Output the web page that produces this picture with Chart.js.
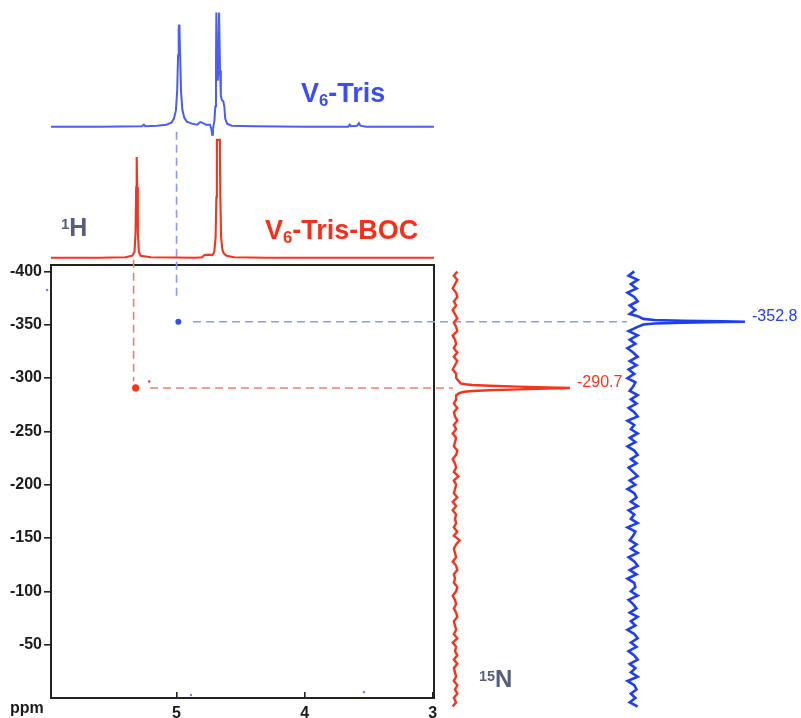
<!DOCTYPE html>
<html>
<head>
<meta charset="utf-8">
<title>V6-Tris / V6-Tris-BOC 1H-15N</title>
<script src="https://cdn.jsdelivr.net/npm/chart.js@4.4.1/dist/chart.umd.min.js"></script>
<style>
  body { margin: 0; background: #fff; }
  #wrap { position: relative; width: 801px; height: 718px; overflow: hidden;
          font-family: "Liberation Sans", Arial, sans-serif; }
  #wrap canvas { position: absolute; left: 0; top: 0; }
  .lbl { position: absolute; font-weight: bold; white-space: nowrap; line-height: 1; }
  .lbl sub { font-size: 62%; vertical-align: -0.25em; line-height: 0; }
  .lbl sup { font-size: 60%; vertical-align: 0.45em; line-height: 0; }
</style>
</head>
<body>
<div id="wrap">
  <canvas id="nmr" width="801" height="718"></canvas>
  <div class="lbl" style="left:301px;top:80px;font-size:27px;color:#3b4ef2">V<sub>6</sub>-Tris</div>
  <div class="lbl" style="left:265px;top:217px;font-size:27px;color:#f5301a">V<sub>6</sub>-Tris-BOC</div>
  <div class="lbl" style="left:61px;top:215px;font-size:25px;color:#585d80"><sup>1</sup>H</div>
  <div class="lbl" style="left:479px;top:667px;font-size:24px;color:#585d80"><sup>15</sup>N</div>
  <div class="lbl" style="left:10px;top:700px;font-size:16px;color:#1c1c1c">ppm</div>
</div>
<script>
/* =========================
   DATA
========================= */
// 1H projection, V6-Tris : [ppm, intensity]
const hTris = [
  [5.98, 0], [5.60, 0], [5.27, 0.005], [5.255, 0.02], [5.245, 0.005], [5.15, 0.01],
  [5.08, 0.02], [5.04, 0.04], [5.02, 0.08], [5.005, 0.16], [4.995, 0.35], [4.988, 0.7],
  [4.983, 0.95], [4.980, 1.0], [4.977, 0.95], [4.972, 0.7], [4.965, 0.35], [4.955, 0.17],
  [4.94, 0.09], [4.92, 0.05], [4.88, 0.03], [4.84, 0.02], [4.815, 0.045], [4.80, 0.04],
  [4.77, 0.02], [4.74, 0.02], [4.728, -0.02], [4.722, -0.08], [4.716, -0.02], [4.705, 0.05],
  [4.697, 0.2], [4.692, 0.6], [4.689, 1.12], [4.686, 1.12], [4.683, 0.6], [4.678, 0.45],
  [4.672, 0.6], [4.668, 1.12], [4.664, 1.12], [4.660, 0.55], [4.654, 0.3], [4.645, 0.26],
  [4.635, 0.25], [4.627, 0.2], [4.62, 0.08], [4.605, 0.03], [4.57, 0.01], [4.4, 0.005],
  [4.0, 0], [3.66, 0], [3.648, 0.02], [3.638, 0.005], [3.59, 0.01], [3.576, 0.035],
  [3.565, 0.01], [3.52, 0], [2.99, 0]
];

// 1H projection, V6-Tris-BOC : [ppm, intensity]
const hTrisBoc = [
  [5.98, 0], [5.60, 0], [5.40, 0.005], [5.345, 0.02], [5.328, 0.06], [5.320, 0.25],
  [5.315, 0.7], [5.311, 1.0], [5.307, 0.7], [5.302, 0.25], [5.294, 0.06], [5.28, 0.02],
  [5.2, 0.005], [4.85, 0], [4.80, 0.005], [4.785, 0.025], [4.75, 0.03], [4.72, 0.025],
  [4.705, 0.06], [4.695, 0.2], [4.689, 0.6], [4.685, 1.17], [4.662, 1.17], [4.658, 0.6],
  [4.652, 0.2], [4.642, 0.08], [4.63, 0.04], [4.61, 0.02], [4.55, 0.005], [4.3, 0], [2.99, 0]
];

// 15N traces: baseline read every 4 ppm from -400 (intensity x100)
const nStart = -400;
const nStep = 4;
const nBocNoise = [
  2, -1, 2, 0, -2, 1, 2, -1, 1, -2, 0, 2, -1, 1, 2, -2, 0, 1, -1, 2, -1, 2, 0, -2, 1,
  1, -1, 0, -2, 1, 1,
  -1, 2, -1, 0, 2, -1, 1, -2, 1, 0, -1, 2, 1, -2, 0, 1, -1, 3, -1, 1, 0, -1, 2, -2, 1,
  -2, 1, 0, 1, -1, 2, -1, 4, 1, -1, 0, 1, -2, 1, 2, -1, 0, -1, 2, 1, -2, 0, 1, -1, 1,
  2, -1, 0, 1, -1, 2, -2, 1, 0, 2, -1, 2, -1, 0, 1, -1, 2, 0, 2, -1, 1, -2
];
const nTrisNoise = [
  2, -3, 5, -1, 4, -4, 2, 5, -2, 3,
  -2, 4, -1, 2, -3,
  5, -2, 3, -4, 1, 5, -2, 4, -3, 2, -4, 3, 1, -2, 5, -1, 4, -3, 2, 5, -4, 2, -1, 5, -2,
  3, -4, 2, 5, -1, 4, -3, 1, 5, -2, 3, -4, 2, 4, -1, 5, -3, 2, -1, 5, -4, 3, 1, -2, 4,
  -1, 5, -3, 2, 5, -2, 4, -4, 2, 3, -1, 5, -3, 1, 4, -2, 5, -1, 3, -4, 2, 5, -1, 4, -3,
  2, 5, -2, 3, -1, 5, -4, 2, 4, -1, 3, -2, 5
];
// 15N peaks : [shift, intensity]
const nBocPeak = [
  [-295, 0.05], [-294.2, 0.09], [-293.5, 0.15], [-292.8, 0.3], [-292, 0.55], [-291.2, 0.8],
  [-290.7, 1.0], [-290.2, 0.8], [-289.4, 0.55], [-288.6, 0.3], [-287.9, 0.15], [-287.1, 0.08],
  [-286, 0.04]
];
const nTrisPeak = [
  [-358, 0.05], [-355.5, 0.1], [-354.4, 0.2], [-353.6, 0.45], [-353.1, 0.8], [-352.8, 1.0],
  [-352.5, 0.8], [-352, 0.45], [-351.2, 0.2], [-350.2, 0.1], [-348, 0.05]
];

// cross peaks [1H ppm, 15N ppm]
const crossBoc = [[5.319, -290.7]];
const crossTris = [[4.986, -352.8]];
// faint contour specks
const specksMain = [[6.01, -382.5], [4.887, -2.8], [3.537, -5.5]];
const specksBoc = [[5.213, -296.7]];
const specksRight = [[0.90, -342.3], [0.98, -289], [1.006, -167.4], [1.0, -81.5]];

// dashed guides [1H ppm, 15N ppm]
const guideBocV = [[5.335, -411], [5.335, -297]];
const guideBocH = [[5.207, -290.7], [2.842, -290.7]];
const guideTrisV = [[5.0, -531], [5.0, -375.5]];
const guideTrisH = [[4.871, -352.8], [1.484, -352.8]];

const xTicks = [5, 4, 3];
const yTicks = [-400, -350, -300, -250, -200, -150, -100, -50];

/* =========================
   LAYOUT
========================= */
const FONT = '"Liberation Sans", Arial, sans-serif';
const AREA = { left: 51, right: 434, top: 265, bottom: 698 };
const RED = '#f5341c';
const BLUE_H = '#4a5ef5';
const BLUE_N = '#1d3ff0';

// hidden value axes: where the baseline sits and how many px one intensity unit takes
function hSpan(basePx, unitPx) {
  return { min: (AREA.left - basePx) / unitPx, max: (AREA.right - basePx) / unitPx };
}
function vSpan(basePx, unitPx) {
  return { min: (basePx - AREA.bottom) / unitPx, max: (basePx - AREA.top) / unitPx };
}

function pts(list) {
  return list.map(p => ({ x: p[0], y: p[1] }));
}

function trace15N(noise, peak) {
  const lo = peak[0][0], hi = peak[peak.length - 1][0];
  const out = [];
  noise.forEach((v, i) => {
    const s = nStart + i * nStep;
    if (s >= lo - 1 && s <= hi + 1) return;
    out.push({ x: v / 100, y: s });
  });
  peak.forEach(p => out.push({ x: p[1], y: p[0] }));
  return out.sort((a, b) => a.y - b.y);
}

const frame = {
  id: 'frame',
  beforeDatasetsDraw(chart) {
    const { ctx, chartArea: a } = chart;
    ctx.save();
    ctx.strokeStyle = '#222';
    ctx.lineWidth = 2;
    ctx.strokeRect(a.left, a.top, a.right - a.left, a.bottom - a.top);
    ctx.restore();
  }
};

const peakLabels = {
  id: 'peakLabels',
  afterDatasetsDraw(chart) {
    const { ctx } = chart;
    const y = chart.scales.y;
    [[nBocPeak, 'xBoc15', RED], [nTrisPeak, 'xTris15', BLUE_N]].forEach(([peak, axis, color]) => {
      const top = peak.reduce((a, b) => (b[1] > a[1] ? b : a));
      ctx.save();
      ctx.fillStyle = color;
      ctx.font = '16px ' + FONT;
      ctx.textAlign = 'left';
      ctx.textBaseline = 'middle';
      ctx.fillText(top[0].toFixed(1), chart.scales[axis].getPixelForValue(top[1]) + 7,
        y.getPixelForValue(top[0]) - 5);
      ctx.restore();
    });
  }
};

const line = (data, color, width, x, y, extra) => Object.assign({
  data, borderColor: color, borderWidth: width, xAxisID: x, yAxisID: y,
  pointRadius: 0, clip: false, fill: false
}, extra || {});

const dots = (data, color, r, x, y) => ({
  data: pts(data), showLine: false, pointRadius: r, pointBackgroundColor: color,
  pointBorderWidth: 0, xAxisID: x, yAxisID: y, clip: false
});

const dash = { borderDash: [8, 5], order: 5 };

new Chart(document.getElementById('nmr'), {
  type: 'line',
  data: {
    datasets: [
      line(pts(hTris), BLUE_H, 2, 'x', 'yTris1'),
      line(pts(hTrisBoc), RED, 2.1, 'x', 'yBoc1'),
      line(trace15N(nBocNoise, nBocPeak), RED, 2.4, 'xBoc15', 'y'),
      line(trace15N(nTrisNoise, nTrisPeak), BLUE_N, 2.6, 'xTris15', 'y'),
      dots(crossBoc, RED, 3.6, 'x', 'y'),
      dots(crossTris, '#3550f2', 3, 'x', 'y'),
      dots(specksMain, '#6f7ff5', 1.2, 'x', 'y'),
      dots(specksBoc, RED, 1.2, 'x', 'y'),
      dots(specksRight, '#6f7ff5', 1.3, 'xTris15', 'y'),
      line(pts(guideBocV), '#f27d6e', 1.6, 'x', 'y', dash),
      line(pts(guideBocH), '#f27d6e', 1.6, 'x', 'y', dash),
      line(pts(guideTrisV), '#8a99f6', 1.6, 'x', 'y', dash),
      line(pts(guideTrisH), '#8a99f6', 1.6, 'x', 'y', dash)
    ]
  },
  options: {
    responsive: false,
    animation: false,
    events: [],
    layout: { padding: { top: AREA.top, right: 801 - AREA.right, left: 0, bottom: 0 } },
    plugins: { legend: { display: false }, tooltip: { enabled: false } },
    elements: { line: { tension: 0 } },
    scales: {
      x: {
        type: 'linear', position: 'bottom', min: 2.99, max: 5.98, reverse: true,
        afterBuildTicks: s => { s.ticks = xTicks.map(v => ({ value: v })); },
        afterFit: s => { s.height = 718 - AREA.bottom; },
        grid: { drawOnChartArea: false, tickLength: -6, color: '#222', lineWidth: 1.6 },
        border: { color: '#222', width: 2 },
        ticks: { color: '#1c1c1c', font: { family: FONT, size: 16, weight: 'bold' },
                 padding: 12, maxRotation: 0, callback: v => String(v) }
      },
      y: {
        type: 'linear', position: 'left', min: -406, max: 0, reverse: true,
        afterBuildTicks: s => { s.ticks = yTicks.map(v => ({ value: v })); },
        afterFit: s => { s.width = AREA.left; },
        grid: { drawOnChartArea: false, tickLength: 7, color: '#222', lineWidth: 1.6 },
        border: { color: '#222', width: 2 },
        ticks: { color: '#1c1c1c', font: { family: FONT, size: 16, weight: 'bold' },
                 padding: 2, callback: v => String(v) }
      },
      yTris1: Object.assign({ type: 'linear', display: false, position: 'left' }, vSpan(126.7, 102)),
      yBoc1: Object.assign({ type: 'linear', display: false, position: 'left' }, vSpan(257.7, 100.7)),
      xBoc15: Object.assign({ type: 'linear', display: false, position: 'bottom' }, hSpan(455, 115)),
      xTris15: Object.assign({ type: 'linear', display: false, position: 'bottom' }, hSpan(632, 113))
    }
  },
  plugins: [frame, peakLabels]
});
</script>
</body>
</html>
